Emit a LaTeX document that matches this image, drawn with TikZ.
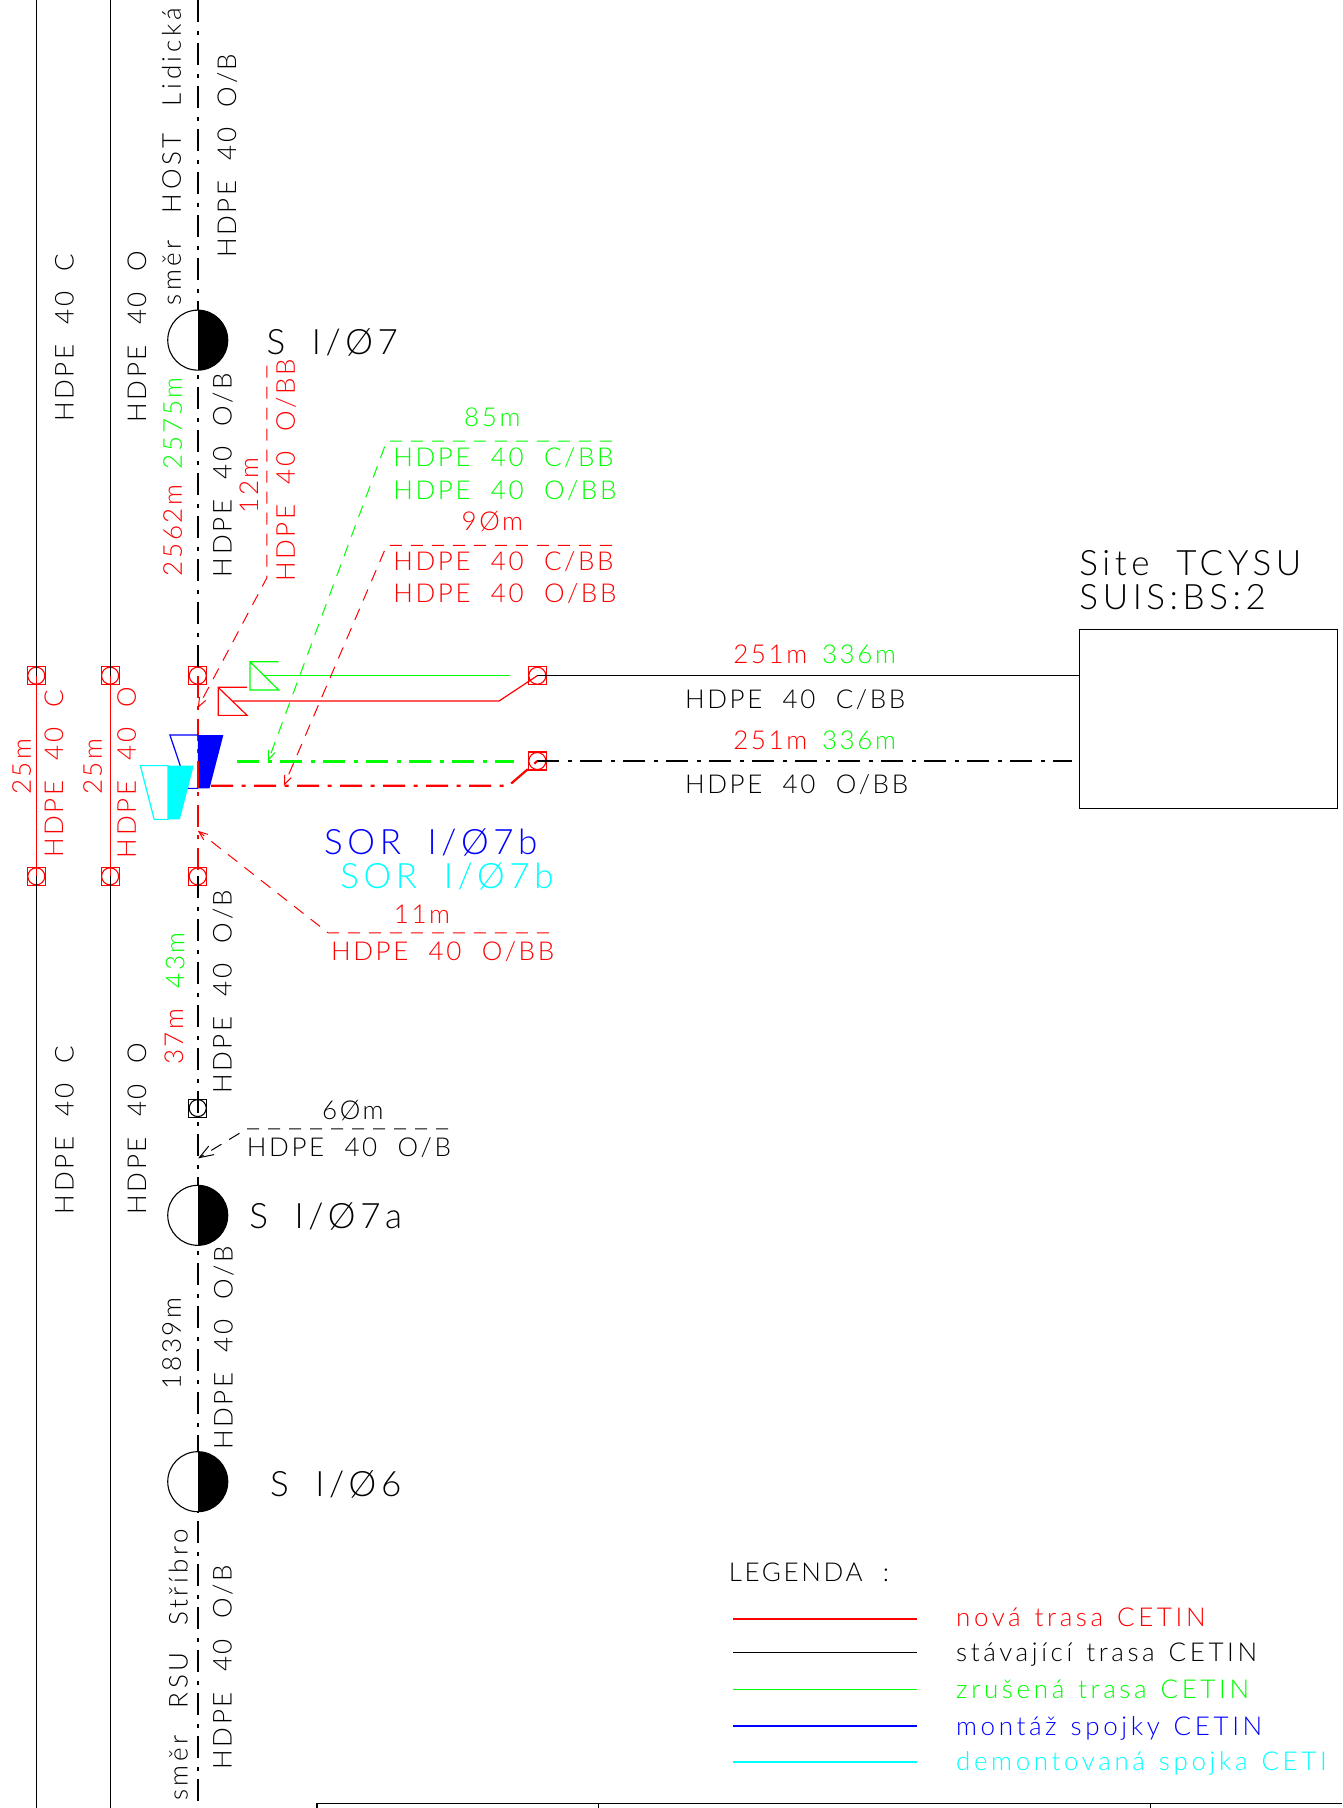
\documentclass[tikz,border=0pt]{standalone}
\usepackage{fontspec}
\usepackage{tikz}
\usetikzlibrary{arrows.meta}
\newfontfamily\cadfont[LetterSpace=10,WordSpace=2.1]{Lato Light}
\newfontfamily\cadwide[LetterSpace=13.9,WordSpace=1.3]{Lato Light}
\newfontfamily\cadlong[LetterSpace=14,WordSpace=2.5]{Lato Light}
\newfontfamily\cadbig[LetterSpace=13,WordSpace=1.9]{Lato Light}
\definecolor{cadred}{RGB}{255,0,0}
\definecolor{cadgreen}{RGB}{0,255,0}
\definecolor{cadblue}{RGB}{0,0,255}
\definecolor{cadcyan}{RGB}{0,255,255}
\tikzset{
lbl/.style={inner sep=0pt, text height=18pt, text depth=0pt, font=\cadfont\fontsize{26}{26}\selectfont},
lblwide/.style={inner sep=0pt, text height=18pt, text depth=0pt, font=\cadwide\fontsize{26}{26}\selectfont},
lbllong/.style={inner sep=0pt, text height=18pt, text depth=0pt, font=\cadlong\fontsize{26}{26}\selectfont},
lblbig/.style={inner sep=0pt, text height=25pt, text depth=0pt, font=\cadbig\fontsize{35}{35}\selectfont},
joint/.style={rectangle, draw=#1, line width=1.1pt, minimum size=18pt, inner sep=0pt,
  path picture={\draw[#1, line width=1.1pt] (path picture bounding box.center) circle (8.5pt);}},
splice/.style={circle, draw=black, line width=1.1pt, fill=white, minimum size=60pt, inner sep=0pt,
  path picture={\fill[black] (path picture bounding box.north) rectangle (path picture bounding box.south east);}},
thinline/.style={line width=1.2pt},
mainline/.style={line width=2.2pt, dash pattern=on 22pt off 8.5pt on 4pt off 8.5pt},
leader/.style={line width=1pt, dash pattern=on 12pt off 9pt, ->, >={Straight Barb[length=9pt,width=7pt]}}
}
\begin{document}
\begin{tikzpicture}[x=1.153pt, y=-1.153pt]
\useasboundingbox (0,0) rectangle (1164,1568);
%Coordinates
\coordinate (m0) at (171.5,0);
\coordinate (m1) at (171.5,1568);
\coordinate (a0) at (31.5,0);
\coordinate (a1) at (31.5,1568);
\coordinate (b0) at (95.5,0);
\coordinate (b1) at (95.5,1568);
%Joints
\node[joint=cadred] (ja1) at (31.5,586)  {};
\node[joint=cadred] (jb1) at (95.5,586)  {};
\node[joint=cadred] (jm1) at (171.5,586) {};
\node[joint=cadred] (ja2) at (31.5,760)  {};
\node[joint=cadred] (jb2) at (95.5,760)  {};
\node[joint=cadred] (jm2) at (171.5,760) {};
\node[joint=cadred] (jc)  at (466,586)   {};
\node[joint=cadred] (jo)  at (466,660)   {};
\node[joint=black]  (jm3) at (171.5,961) {};
%Site
\node[rectangle, draw=black, line width=1.2pt, minimum width=258pt, minimum height=179pt, inner sep=0pt] (site) at (1048,623.5) {};
\coordinate (siteo) at (930,660);
%Lines
\draw[thinline] (a0) -- (ja1.center);
\draw[thinline] (ja2.center) -- (a1);
\draw[thinline] (b0) -- (jb1.center);
\draw[thinline] (jb2.center) -- (b1);
\draw[thinline, cadred] (ja1.center) -- (ja2.center);
\draw[thinline, cadred] (jb1.center) -- (jb2.center);
\draw[mainline] (m0) -- (jm1.center);
\draw[mainline] (jm2.center) -- (m1);
\draw[mainline, cadred] (jm1.center) -- (jm2.center);
\draw[thinline] (jc.center) -- (site.west |- jc.center);
\draw[mainline] (jo.center) -- (siteo);
%Splices
\node[splice] (s7)  at (171.5,295)  {};
\node[splice] (s7a) at (171.5,1054) {};
\node[splice] (s6)  at (171.5,1285) {};
%Triangles and routes
\coordinate (tg1) at (216.8,573.9);
\coordinate (tg2) at (241.7,573.9);
\coordinate (tg3) at (216.8,598.4);
\coordinate (tg4) at (241.7,598.4);
\coordinate (tr1) at (189.2,596.1);
\coordinate (tr2) at (214.3,596.1);
\coordinate (tr3) at (189.2,620.4);
\coordinate (tr4) at (214.3,620.4);
\draw[thinline, cadgreen] (tg2) -- (tg1) -- (tg3) -- (tg4) -- (tg1);
\draw[thinline, cadred] (tr2) -- (tr1) -- (tr3) -- (tr4) -- (tr1);
\coordinate (gc0) at (229,586);
\coordinate (gc1) at (442,586);
\coordinate (rc0) at (202,608);
\coordinate (rc1) at (432.7,608);
\coordinate (go0) at (205.7,660.4);
\coordinate (go1) at (445.7,660.4);
\coordinate (ro0) at (183,681.5);
\coordinate (ro1) at (441,681.5);
\draw[thinline, cadgreen] (gc0) -- (gc1);
\draw[thinline, cadred] (rc0) -- (rc1) -- (jc.center);
\draw[mainline, cadgreen] (go0) -- (go1);
\draw[mainline, cadred] (ro0) -- (ro1) -- (jo.center);
%Sleeves
\coordinate (bl1) at (147.4,637.5);
\coordinate (bl2) at (171.5,637.5);
\coordinate (bl3) at (193.7,637.5);
\coordinate (bl4) at (181.7,683.7);
\coordinate (bl5) at (171.5,683.7);
\coordinate (bl6) at (162.9,683.7);
\draw[thinline, cadblue] (bl2) -- (bl1) -- (bl6) -- (bl5);
\fill[cadblue] (bl2) -- (bl3) -- (bl4) -- (bl5) -- cycle;
\coordinate (cy1) at (121.7,664);
\coordinate (cy2) at (145.7,664);
\coordinate (cy3) at (168,664);
\coordinate (cy4) at (156,710.6);
\coordinate (cy5) at (145.7,710.6);
\coordinate (cy6) at (133.7,710.6);
\filldraw[thinline, cadcyan, fill=white] (cy2) -- (cy1) -- (cy6) -- (cy5) -- cycle;
\fill[cadcyan] (cy2) -- (cy3) -- (cy4) -- (cy5) -- cycle;
\draw[line width=2.2pt, cadred] (171.5,660) -- (bl5);
%Leaders
\coordinate (l12a) at (231.5,317);
\coordinate (l12b) at (231.5,501);
\coordinate (l12c) at (171.5,614);
\draw[leader, cadred] (l12a) -- (l12b) -- (l12c);
\coordinate (l85a) at (530.6,382.5);
\coordinate (l85b) at (335.4,382.5);
\coordinate (l85c) at (232.5,660);
\draw[leader, cadgreen] (l85a) -- (l85b) -- (l85c);
\coordinate (l90a) at (530.6,473);
\coordinate (l90b) at (335.4,473);
\coordinate (l90c) at (246.2,681.5);
\draw[leader, cadred] (l90a) -- (l90b) -- (l90c);
\coordinate (l11a) at (476,809);
\coordinate (l11b) at (284.6,809);
\coordinate (l11c) at (171.5,720.5);
\draw[leader, cadred] (l11a) -- (l11b) -- (l11c);
\coordinate (l60a) at (388.7,979);
\coordinate (l60b) at (214,979);
\coordinate (l60c) at (171.8,1004.6);
\draw[leader, black, >={Straight Barb[length=14pt,width=10pt]}] (l60a) -- (l60b) -- (l60c);
%Rotated labels
\node[lbl, rotate=90] (t1)  at (56,293)    {HDPE 40 C};
\node[lbl, rotate=90] (t2)  at (56,980)    {HDPE 40 C};
\node[lbl, rotate=90] (t3)  at (119,292)   {HDPE 40 O};
\node[lbl, rotate=90] (t4)  at (119,979)   {HDPE 40 O};
\node[lbl, rotate=90, cadred] (t5) at (47,671)   {HDPE 40 C};
\node[lbl, rotate=90, cadred] (t6) at (110,670)  {HDPE 40 O};
\node[lbl, rotate=90, cadred] (t7) at (19,665)   {25m};
\node[lbl, rotate=90, cadred] (t8) at (80.5,665) {25m};
\node[lbllong, rotate=90] (t9)  at (149,136)   {směr HOST Lidická};
\node[lbl, rotate=90] (t10) at (197,135)   {HDPE 40 O/B};
\node[lbl, rotate=90, cadgreen] (t11) at (150,367) {2575m};
\node[lbl, rotate=90, cadred] (t12)   at (150,460) {2562m};
\node[lbl, rotate=90] (t13) at (193,412)   {HDPE 40 O/B};
\node[lbl, rotate=90, cadred] (t14)   at (216,421) {12m};
\node[lbl, rotate=90, cadred] (t15)   at (248,408) {HDPE 40 O/BB};
\node[lbl, rotate=90] (t16) at (193,860)   {HDPE 40 O/B};
\node[lbl, rotate=90, cadgreen] (t17) at (152,833) {43m};
\node[lbl, rotate=90, cadred] (t18)   at (151,899) {37m};
\node[lbl, rotate=90] (t19) at (194,1169)  {HDPE 40 O/B};
\node[lbl, rotate=90] (t20) at (149,1165)  {1839m};
\node[lbllong, rotate=90] (t21) at (155,1444)  {směr RSU Stříbro};
\node[lbl, rotate=90] (t22) at (193,1446)  {HDPE 40 O/B};
%Splice names
\node[lblbig, anchor=west] (n7)  at (231,297)  {S I/Ø7};
\node[lblbig, anchor=west] (n7a) at (216,1055) {S I/Ø7a};
\node[lblbig, anchor=west] (n6)  at (234,1287) {S I/Ø6};
\node[lblbig, anchor=west, cadblue] (nb) at (281,730) {SOR I/Ø7b};
\node[lblbig, anchor=west, cadcyan] (nc) at (295,760) {SOR I/Ø7b};
\node[lblbig, anchor=west] (ns1) at (936,488) {Site TCYSU};
\node[lblbig, anchor=west] (ns2) at (936,518) {SUIS:BS:2};
%Route labels
\node[lbl, cadgreen] (h1) at (427,362) {85m};
\node[lbl, anchor=west, cadgreen] (h2) at (341,397) {HDPE 40 C/BB};
\node[lbl, anchor=west, cadgreen] (h3) at (341,425) {HDPE 40 O/BB};
\node[lbl, cadred] (h4) at (427,452) {9Øm};
\node[lbl, anchor=west, cadred] (h5) at (341,487) {HDPE 40 C/BB};
\node[lbl, anchor=west, cadred] (h6) at (341,515) {HDPE 40 O/BB};
\node[lbl, cadred]   (h7)  at (668,568) {251m};
\node[lbl, cadgreen] (h8)  at (745,568) {336m};
\node[lbl, cadred]   (h9)  at (668,642) {251m};
\node[lbl, cadgreen] (h10) at (745,642) {336m};
\node[lbl, anchor=west] (h11) at (594,607) {HDPE 40 C/BB};
\node[lbl, anchor=west] (h12) at (594,680) {HDPE 40 O/BB};
\node[lbl, cadred] (h13) at (366,793) {11m};
\node[lbl, anchor=west, cadred] (h14) at (287,825) {HDPE 40 O/BB};
\node[lbl] (h15) at (306,963) {6Øm};
\node[lbl, anchor=west] (h16) at (214,995) {HDPE 40 O/B};
%Legend
\node[lbl, anchor=west] (lg) at (632,1364) {LEGENDA :};
\node[lblwide, anchor=west, cadred]   (lg1) at (829,1403) {nová trasa CETIN};
\node[lblwide, anchor=west, black]    (lg2) at (829,1433) {stávající trasa CETIN};
\node[lblwide, anchor=west, cadgreen] (lg3) at (829,1465) {zrušená trasa CETIN};
\node[lblwide, anchor=west, cadblue]  (lg4) at (829,1497) {montáž spojky CETIN};
\node[lblwide, anchor=west, cadcyan]  (lg5) at (829,1528) {demontovaná spojka CETI};
\coordinate (k1) at (636,1404);
\coordinate (k2) at (636,1433);
\coordinate (k3) at (636,1465);
\coordinate (k4) at (636,1497);
\coordinate (k5) at (636,1528);
\draw[line width=1.5pt, cadred]   (k1) -- ++(159,0);
\draw[line width=1.5pt, black]    (k2) -- ++(159,0);
\draw[line width=1.5pt, cadgreen] (k3) -- ++(159,0);
\draw[line width=1.5pt, cadblue]  (k4) -- ++(159,0);
\draw[line width=1.5pt, cadcyan]  (k5) -- ++(159,0);
%Frame
\coordinate (f0) at (275,1568);
\coordinate (f1) at (275,1564);
\coordinate (f2) at (1164,1564);
\coordinate (f3) at (519,1564);
\coordinate (f4) at (519,1568);
\coordinate (f5) at (998,1564);
\coordinate (f6) at (998,1568);
\draw[line width=1.5pt] (f0) -- (f1) -- (f2);
\draw[thinline] (f3) -- (f4);
\draw[thinline] (f5) -- (f6);
\end{tikzpicture}
\end{document}
